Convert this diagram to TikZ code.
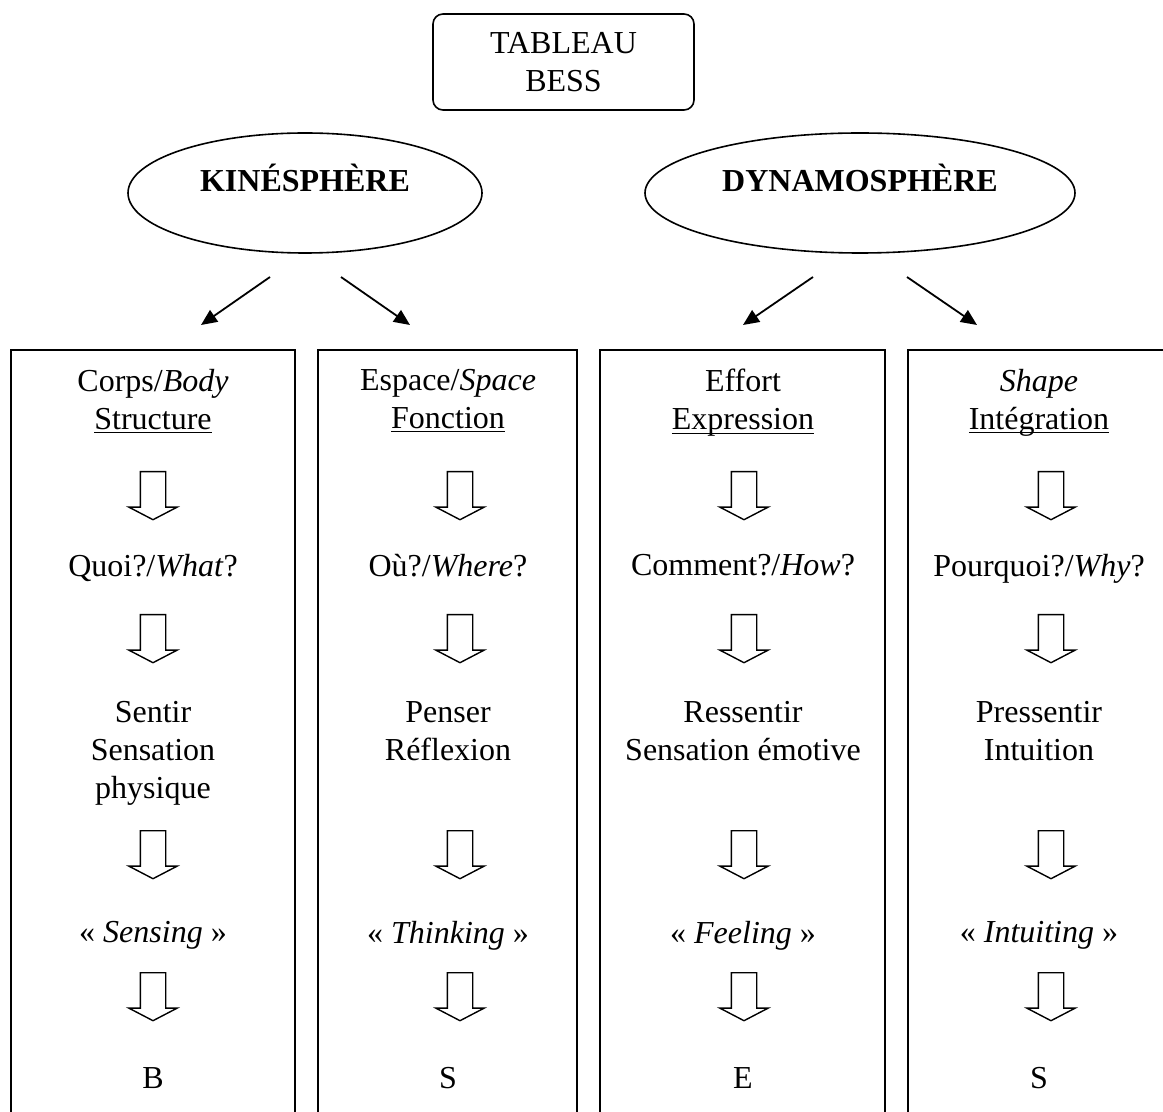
\documentclass[tikz,border=0pt]{standalone}
\usepackage{fontspec}
\setmainfont{Liberation Serif}
\usetikzlibrary{shapes.geometric, shapes.arrows, positioning, arrows.meta}
\newcommand{\souligne}[1]{\leavevmode\setbox0\hbox{#1}%
  \rlap{\rule[-1.9pt]{\wd0}{0.6pt}}\box0}

\begin{document}
\begin{tikzpicture}[
  x=0.5pt, y=-0.5pt,
  font=\fontsize{16}{19}\selectfont,
  titre/.style={rectangle, rounded corners=5pt, draw, line width=0.8pt,
              minimum width=130.5pt, minimum height=48pt, align=center},
  bulle/.style={ellipse, draw, line width=0.8pt, minimum height=60pt,
              inner sep=0pt, text height=12pt, text depth=13pt,
              font=\fontsize{16}{19}\selectfont\bfseries},
  col/.style={rectangle, draw, line width=0.8pt, anchor=north,
              minimum height=450pt},
  txt/.style={anchor=north, align=center, inner sep=0pt},
  fl/.style={single arrow, draw, line width=0.7pt, rotate=-90,
              minimum height=24pt, minimum width=23.5pt,
              inner xsep=0pt, inner ysep=6pt,
              single arrow head extend=5.75pt, single arrow tip angle=125,
              anchor=tail},
  arr/.style={-{Triangle[length=8pt, width=7pt]}, line width=0.9pt},
]
\useasboundingbox (0,0) rectangle (1163,1112);
\clip (0,0) rectangle (1163,1112);
% Titre
\node[titre] (bess) at (563.5,62) {TABLEAU\\BESS};
% Ellipses
\node[bulle, minimum width=177pt] (kine) at (305,193) {KINÉSPHÈRE};
\node[bulle, minimum width=215pt] (dyna) at (860,193) {DYNAMOSPHÈRE};
% Colonnes
\node[col, minimum width=142pt]   (c1) at (153,349)   {};
\node[col, minimum width=129.5pt] (c2) at (447.5,349) {};
\node[col, minimum width=142.5pt] (c3) at (742.5,349) {};
\node[col, minimum width=131pt]   (c4) at (1039,349)  {};
% Fleches vers les colonnes
\coordinate (kA) at (270,277); \coordinate (kAt) at (201,325);
\coordinate (kB) at (341,277); \coordinate (kBt) at (410,325);
\coordinate (dA) at (813,277); \coordinate (dAt) at (743,325);
\coordinate (dB) at (907,277); \coordinate (dBt) at (977,325);
\draw[arr] (kA) -- (kAt);
\draw[arr] (kB) -- (kBt);
\draw[arr] (dA) -- (dAt);
\draw[arr] (dB) -- (dBt);
% Corps
\node[txt] (t1) at (153,369)  {Corps/\textit{Body}\\\souligne{Structure}};
\node[txt] (q1) at (153,554)  {Quoi?/\textit{What}?};
\node[txt] (s1) at (153,701)  {Sentir\\Sensation\\physique};
\node[txt] (m1) at (153,921)  {« \textit{Sensing} »};
\node[txt] (l1) at (153,1067) {B};
% Espace
\node[txt] (t2) at (448,369)  {Espace/\textit{Space}\\\souligne{Fonction}};
\node[txt] (q2) at (448,554)  {Où?/\textit{Where}?};
\node[txt] (s2) at (448,701)  {Penser\\Réflexion};
\node[txt] (m2) at (448,921)  {« \textit{Thinking} »};
\node[txt] (l2) at (448,1067) {S};
% Effort
\node[txt] (t3) at (743,369)  {Effort\\\souligne{Expression}};
\node[txt] (q3) at (743,554)  {Comment?/\textit{How}?};
\node[txt] (s3) at (743,701)  {Ressentir\\Sensation émotive};
\node[txt] (m3) at (743,921)  {« \textit{Feeling} »};
\node[txt] (l3) at (743,1067) {E};
% Shape
\node[txt] (t4) at (1039,369)  {\textit{Shape}\\\souligne{Intégration}};
\node[txt] (q4) at (1039,554)  {Pourquoi?/\textit{Why}?};
\node[txt] (s4) at (1039,701)  {Pressentir\\Intuition};
\node[txt] (m4) at (1039,921)  {« \textit{Intuiting} »};
\node[txt] (l4) at (1039,1067) {S};
% Grosses fleches
\foreach \x/\n in {153/1, 460/2, 744/3, 1051/4}
  \foreach \y/\m in {471/1, 614/2, 830/3, 972/4}
    \node[fl] (f\n\m) at (\x,\y) {};
\end{tikzpicture}
\end{document}
